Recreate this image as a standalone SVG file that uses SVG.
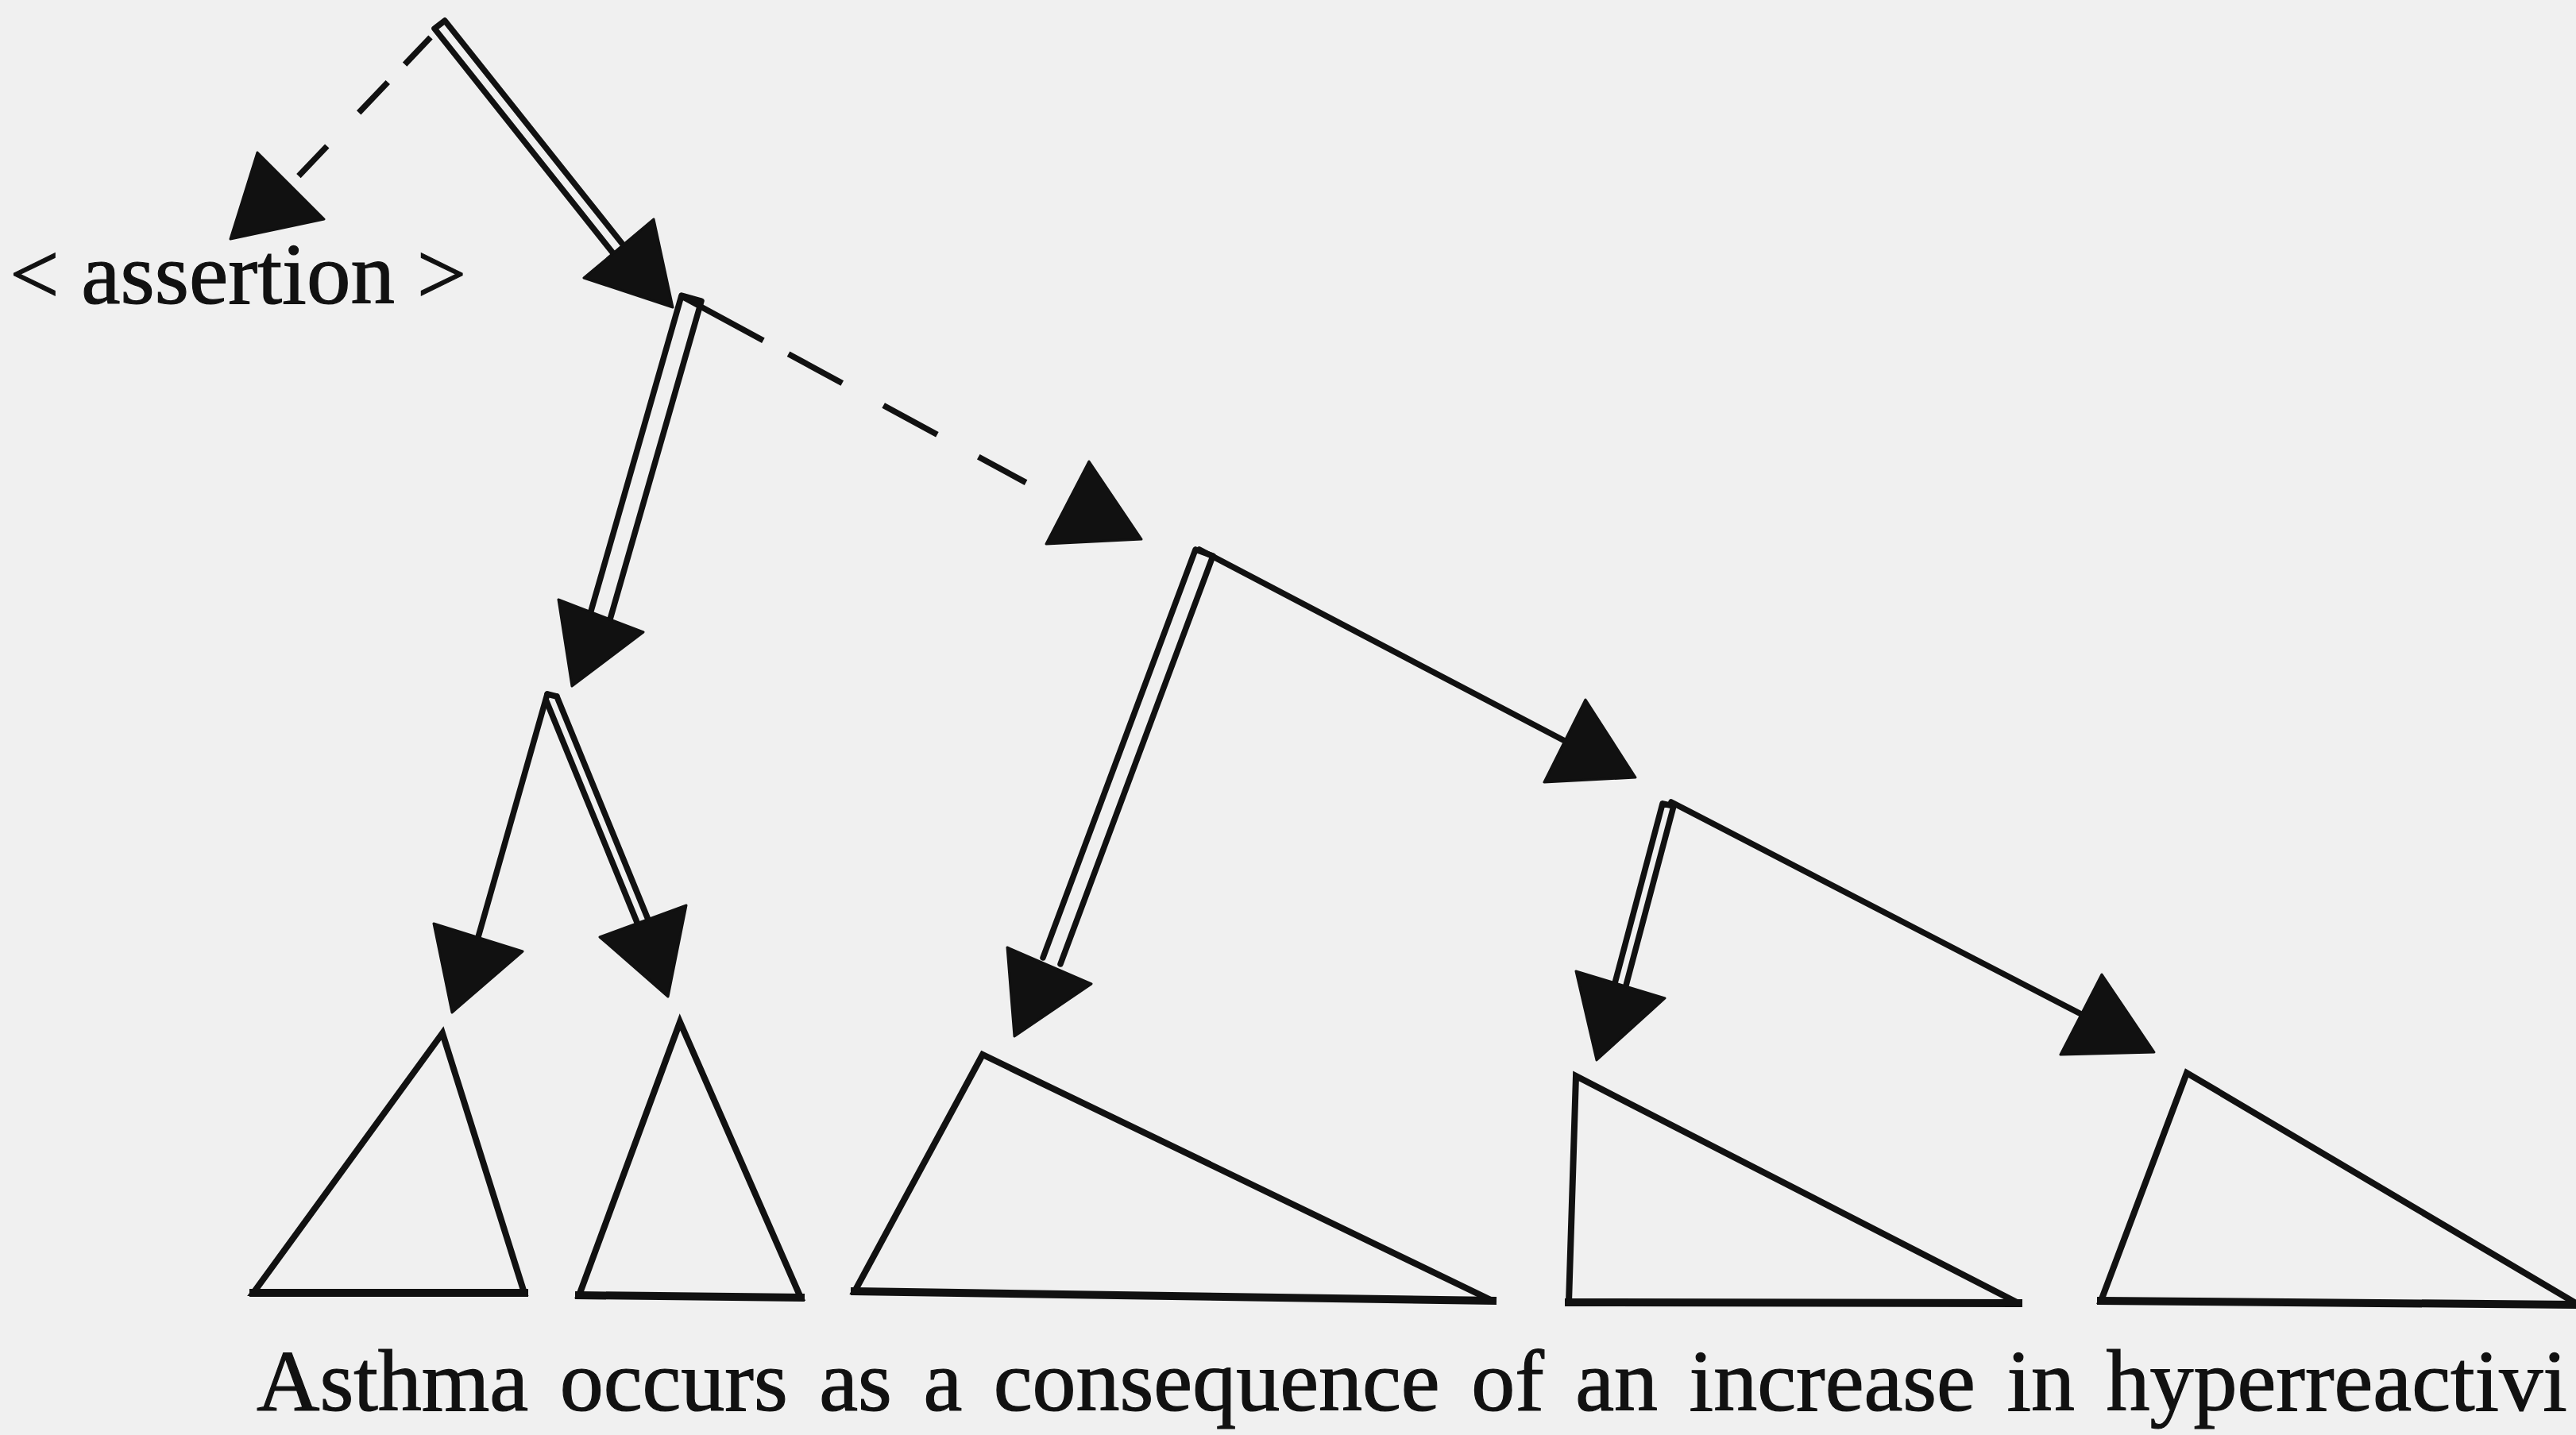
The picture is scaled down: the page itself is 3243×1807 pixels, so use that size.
<svg xmlns="http://www.w3.org/2000/svg" width="3243" height="1807" viewBox="0 0 3243 1807">
<style>
.bg{fill:#f0f0f0}
.ln{stroke:#111;stroke-width:7.5;fill:none;stroke-linecap:round}
.dash{stroke:#111;stroke-width:7.5;fill:none;stroke-linecap:butt}
.head{fill:#111;stroke:#111;stroke-width:3;stroke-linejoin:round}
.leaf{fill:none;stroke:#111;stroke-width:8;stroke-linejoin:miter}
.base{stroke:#111;stroke-width:10;stroke-linecap:square}
.txt{font-family:"Liberation Serif","Times New Roman",serif;fill:#111;stroke:#111;stroke-width:1.2}
</style>
<rect class="bg" x="0" y="0" width="3243" height="1807"/>

<g id="connectors">
  <!-- root -> assertion (dashed) -->
  <path class="dash" d="M542,47 L368,230" stroke-dasharray="47 31 53 58 52 20"/>
  <polygon class="head" points="324,192 408,276 290,301"/>
  <!-- root -> B (double) -->
  <path class="ln" d="M560,26 L785,309 M547,36 L772,319 M560,26 L547,36"/>
  <polygon class="head" points="823,276 735,350 847,387"/>
  <!-- B -> D (dashed) -->
  <path class="dash" d="M858,373 L1344,636" stroke-dasharray="117 36 77 59 77 59 68 80"/>
  <polygon class="head" points="1371,581 1317,685 1437,679"/>
  <!-- B -> C (double) -->
  <path class="ln" d="M858,372 L743,773 M883,379 L768,780 M858,372 L883,379"/>
  <polygon class="head" points="703,755 810,796 720,864"/>
  <!-- C -> T1 (single) -->
  <path class="ln" d="M689,874 L602,1180"/>
  <polygon class="head" points="546,1163 658,1198 569,1275"/>
  <!-- C -> T2 (double) -->
  <path class="ln" d="M701,877 L816,1158 M688,883 L803,1164 M689,874 L701,877"/>
  <polygon class="head" points="755,1180 864,1140 841,1255"/>
  <!-- D -> E (double) -->
  <path class="ln" d="M1505,692 L1313,1206 M1527,700 L1335,1214 M1505,692 L1527,700"/>
  <polygon class="head" points="1268,1193 1374,1239 1277,1305"/>
  <!-- D -> F (single) -->
  <path class="ln" d="M1510,692 L1970,933"/>
  <polygon class="head" points="1996,881 1944,985 2059,979"/>
  <!-- F -> G (double) -->
  <path class="ln" d="M2093,1012 L2033,1238 M2107,1015 L2047,1241 M2093,1012 L2107,1015"/>
  <polygon class="head" points="1984,1223 2096,1257 2010,1335"/>
  <!-- F -> H (single) -->
  <path class="ln" d="M2104,1010 L2620,1277"/>
  <polygon class="head" points="2646,1227 2594,1328 2712,1325"/>
</g>

<g id="node-assertion">
  <text class="txt" x="12" y="382" font-size="111">&lt; assertion &gt;</text>
</g>

<g id="leaf-1">
  <polygon class="leaf" points="557,1301 319,1628 660,1628"/>
  <line class="base" x1="319" y1="1628" x2="660" y2="1628"/>
</g>
<g id="leaf-2">
  <polygon class="leaf" points="856,1287 729,1631 1008,1634"/>
  <line class="base" x1="729" y1="1631" x2="1008" y2="1634"/>
</g>
<g id="leaf-3">
  <polygon class="leaf" points="1237,1328 1076,1626 1879,1638"/>
  <line class="base" x1="1076" y1="1626" x2="1879" y2="1638"/>
</g>
<g id="leaf-4">
  <polygon class="leaf" points="1984,1355 1975,1640 2541,1641"/>
  <line class="base" x1="1975" y1="1640" x2="2541" y2="1641"/>
</g>
<g id="leaf-5">
  <polygon class="leaf" points="2753,1351 2645,1638 3246,1643"/>
  <line class="base" x1="2645" y1="1638" x2="3243" y2="1643"/>
</g>

<g id="sentence">
  <text class="txt" x="323" y="1776" font-size="110" word-spacing="12">Asthma occurs as a consequence of an increase in hyperreactivi</text>
</g>
</svg>
